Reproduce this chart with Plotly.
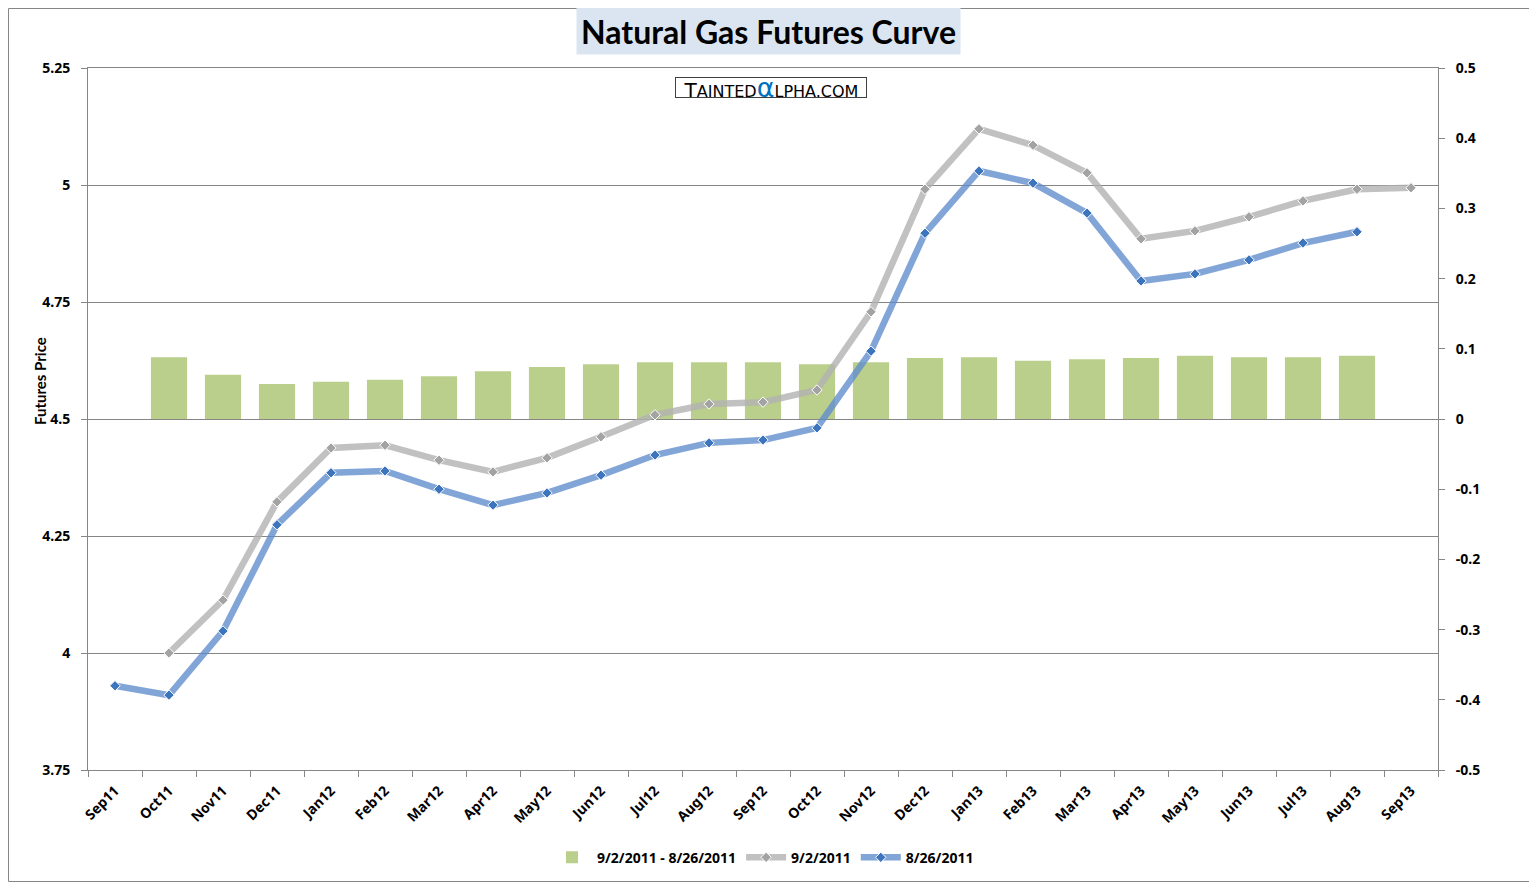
import plotly.graph_objects as go

months = ["Sep11", "Oct11", "Nov11", "Dec11", "Jan12", "Feb12", "Mar12", "Apr12",
          "May12", "Jun12", "Jul12", "Aug12", "Sep12", "Oct12", "Nov12", "Dec12",
          "Jan13", "Feb13", "Mar13", "Apr13", "May13", "Jun13", "Jul13", "Aug13", "Sep13"]

price_0902 = [None, 4.000, 4.113, 4.323, 4.438, 4.444, 4.412, 4.387, 4.417, 4.462,
              4.509, 4.532, 4.536, 4.562, 4.729, 4.991, 5.120, 5.085, 5.026, 4.885,
              4.902, 4.932, 4.966, 4.991, 4.994]

price_0826 = [3.930, 3.910, 4.047, 4.274, 4.385, 4.389, 4.350, 4.316, 4.342, 4.380,
              4.423, 4.449, 4.455, 4.481, 4.645, 4.897, 5.030, 5.004, 4.940, 4.795,
              4.810, 4.840, 4.876, 4.900, None]

price_change = [None, 0.088, 0.063, 0.050, 0.053, 0.056, 0.061, 0.068, 0.074, 0.078,
                0.081, 0.081, 0.081, 0.078, 0.081, 0.087, 0.088, 0.083, 0.085, 0.087,
                0.090, 0.088, 0.088, 0.090, None]

left_ticks = [3.75, 4, 4.25, 4.5, 4.75, 5, 5.25]
left_ticktext = ["3.75", "4", "4.25", "4.5", "4.75", "5", "5.25"]
right_ticks = [-0.5, -0.4, -0.3, -0.2, -0.1, 0, 0.1, 0.2, 0.3, 0.4, 0.5]
right_ticktext = ["-0.5", "-0.4", "-0.3", "-0.2", "-0.1", "0", "0.1", "0.2", "0.3", "0.4", "0.5"]

AXIS_GRAY = "#868686"
tick_font = dict(family="Noto Sans", size=14, color="black", weight="bold")

# figure geometry (page adds an 8px body margin)
W, H = 1529, 874
ML, MT, PW, PH = 80, 60, 1350, 702

fig = go.Figure()

fig.add_trace(go.Bar(
    x=months, y=price_change, name="9/2/2011 - 8/26/2011",
    marker=dict(color="#BBCF8D", line=dict(width=0)),
    width=0.67, xaxis="x", yaxis="y",
))

fig.add_trace(go.Scatter(
    x=months, y=price_0902, name="9/2/2011", mode="lines+markers",
    line=dict(color="rgba(178,178,178,0.8)", width=6.5),
    marker=dict(symbol="diamond", size=8, color="#A3A3A3",
                line=dict(color="white", width=1)),
    xaxis="x", yaxis="y2",
))

fig.add_trace(go.Scatter(
    x=months, y=price_0826, name="8/26/2011", mode="lines+markers",
    line=dict(color="rgba(95,140,205,0.78)", width=6.5),
    marker=dict(symbol="diamond", size=8, color="#3C74BE",
                line=dict(color="white", width=1)),
    xaxis="x", yaxis="y2",
))

fig.update_layout(
    width=W, height=H,
    margin=dict(l=ML, r=W - ML - PW, t=MT, b=H - MT - PH, autoexpand=False),
    paper_bgcolor="white", plot_bgcolor="white",
    showlegend=True,
    legend=dict(orientation="h", x=0.5, xanchor="center", y=-0.125, yanchor="middle",
                font=dict(family="Noto Sans", size=14, color="black", weight="bold"),
                itemwidth=40, tracegroupgap=0),
    xaxis=dict(
        type="category", range=[-0.5, 24.5], automargin=False,
        showgrid=False, showline=True, linecolor=AXIS_GRAY, linewidth=1, mirror=True,
        ticks="outside", ticklen=6, tickcolor=AXIS_GRAY, tickson="boundaries",
        tickangle=-45, tickfont=tick_font, ticklabelstandoff=6,
    ),
    yaxis=dict(
        side="right", range=[-0.5, 0.5], automargin=False,
        tickvals=right_ticks, ticktext=right_ticktext,
        showgrid=False, zeroline=False,
        showline=True, linecolor=AXIS_GRAY, linewidth=1,
        ticks="outside", ticklen=6, tickcolor=AXIS_GRAY,
        tickfont=tick_font, ticklabelstandoff=8,
    ),
    yaxis2=dict(
        overlaying="y", side="left", range=[3.75, 5.25], automargin=False,
        tickvals=left_ticks, ticktext=left_ticktext,
        showgrid=True, gridcolor=AXIS_GRAY, gridwidth=1, zeroline=False,
        showline=True, linecolor=AXIS_GRAY, linewidth=1,
        ticks="outside", ticklen=6, tickcolor=AXIS_GRAY,
        tickfont=tick_font, ticklabelstandoff=8,
    ),
)

# Y axis title (placed like the original, above the plot middle)
fig.add_annotation(
    xref="paper", yref="paper", x=-48 / PW, y=(770 - 381) / PH,
    xanchor="center", yanchor="middle",
    text="Futures Price", textangle=-90, showarrow=False,
    font=dict(family="Lato", size=15, color="black", weight="bold"),
)

# Chart title in a shaded box
fig.add_annotation(
    xref="paper", yref="paper", x=(768.5 - 88) / PW, y=(770 - 31) / PH,
    xanchor="center", yanchor="middle",
    text="Natural Gas Futures Curve", showarrow=False,
    font=dict(family="Lato", size=32, color="black", weight="bold"),
    bgcolor="#DBE5F1", width=383, height=46, borderpad=0,
)

# Watermark
fig.add_annotation(
    xref="paper", yref="paper", x=(771 - 88) / PW, y=(770 - 88) / PH,
    xanchor="center", yanchor="middle",
    text=("T<span style='font-size:16px'>AINTED</span>"
          "<span style='font-size:27px;color:#0070C0'>α</span>"
          "<span style='font-size:16px'>LPHA.COM</span>"),
    showarrow=False,
    font=dict(family="DejaVu Sans", size=20, color="black"),
    bgcolor="white", bordercolor="#404040", borderwidth=1, borderpad=0,
    width=190, height=19,
)

# Outer chart border
fig.add_shape(
    type="rect", xref="paper", yref="paper",
    x0=(-ML + 0.5) / PW, x1=(W - ML - 0.5) / PW,
    y0=-(H - MT - PH - 0.5) / PH, y1=1 + (MT - 0.5) / PH,
    line=dict(color=AXIS_GRAY, width=1), fillcolor="rgba(0,0,0,0)", layer="below",
)

fig.write_html("out.html")
